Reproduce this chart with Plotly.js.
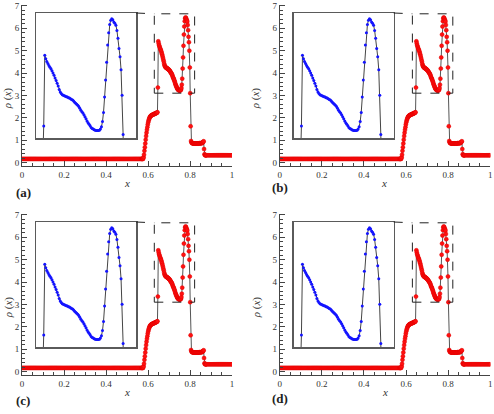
<!DOCTYPE html>
<html><head><meta charset="utf-8">
<script src="https://cdn.plot.ly/plotly-3.0.1.min.js"></script>
<style>html,body{margin:0;padding:0;background:#fff;}#plot{width:494px;height:414px;}</style>
</head><body><div id="plot"></div>
<script>
// ---------- data ----------
const xLeft = [0,0.005,0.01,0.015,0.02,0.025,0.03,0.035,0.04,0.045,0.05,0.055,0.06,0.065,0.07,0.075,0.08,0.085,0.09,0.095,
0.1,0.105,0.11,0.115,0.12,0.125,0.13,0.135,0.14,0.145,0.15,0.155,0.16,0.165,0.17,0.175,0.18,0.185,0.19,0.195,
0.2,0.205,0.21,0.215,0.22,0.225,0.23,0.235,0.24,0.245,0.25,0.255,0.26,0.265,0.27,0.275,0.28,0.285,0.29,0.295,
0.3,0.305,0.31,0.315,0.32,0.325,0.33,0.335,0.34,0.345,0.35,0.355,0.36,0.365,0.37,0.375,0.38,0.385,0.39,0.395,
0.4,0.405,0.41,0.415,0.42,0.425,0.43,0.435,0.44,0.445,0.45,0.455,0.46,0.465,0.47,0.475,0.48,0.485,0.49,0.495,
0.5,0.505,0.51,0.515,0.52,0.525,0.53,0.535,0.54,0.545,0.55,0.555,0.56,0.565];
const yLeft = [0.16,0.16,0.16,0.16,0.16,0.16,0.16,0.16,0.16,0.16,0.16,0.16,0.16,0.16,0.16,0.16,0.16,0.16,0.16,0.16,
0.16,0.16,0.16,0.16,0.16,0.16,0.16,0.16,0.16,0.16,0.16,0.16,0.16,0.16,0.16,0.16,0.16,0.16,0.16,0.16,
0.16,0.16,0.16,0.16,0.16,0.16,0.16,0.16,0.16,0.16,0.16,0.16,0.16,0.16,0.16,0.16,0.16,0.16,0.16,0.16,
0.16,0.16,0.16,0.16,0.16,0.16,0.16,0.16,0.16,0.16,0.16,0.16,0.16,0.16,0.16,0.16,0.16,0.16,0.16,0.16,
0.16,0.16,0.16,0.16,0.16,0.16,0.16,0.16,0.16,0.16,0.16,0.16,0.16,0.16,0.16,0.16,0.16,0.16,0.16,0.16,
0.16,0.16,0.16,0.16,0.16,0.16,0.16,0.16,0.16,0.16,0.16,0.16,0.16,0.16];
const xMid = [0.569,0.571,0.573,0.575,0.577,0.579,0.581,0.583,0.585,0.587,
0.589,0.591,0.593,0.595,0.597,0.599,0.601,0.603,0.605,0.607,
0.609,0.611,0.613,0.615,0.617,0.619,0.621,0.623,0.625,0.627,
0.629,0.631,0.633,0.635,0.637,0.639,0.641,0.643,0.645,0.647,
0.649,0.651,0.653,0.655,0.657,0.659,0.661,0.663,0.665,0.667,
0.669,0.671,0.673,0.675,0.677,0.679,0.681,0.683,0.685,0.687,
0.689,0.691,0.693,0.695,0.697,0.699,0.701,0.703,0.705,0.707,
0.709,0.711,0.713,0.715,0.717,0.719,0.721,0.723,0.725,0.727,
0.729,0.731,0.733,0.735,0.737,0.739,0.741,0.743,0.745,0.747,
0.749,0.751,0.753,0.755,0.757,0.759,0.761,0.763,0.765,0.767,
0.769,0.771,0.773,0.775,0.777,0.779,0.781,0.783,0.785,0.787,
0.789,0.791,0.793,0.795,0.797,0.799,0.801,0.803,0.805,0.807,
0.809,0.811,0.813,0.815,0.817,0.819,0.821,0.823,0.825,0.827,
0.829,0.831,0.833,0.835,0.837,0.839,0.841,0.843,0.845,0.847,
0.849,0.851,0.853,0.855,0.857,0.859,0.861,0.863,0.865,0.867,
0.869,0.871,0.873,0.875,0.877,0.879];
const yMid = [0.16,0.16,0.16,0.16,0.17,0.23,0.35,0.52,0.68,0.85,
1.02,1.18,1.33,1.46,1.58,1.70,1.80,1.88,1.94,1.99,
2.03,2.06,2.08,2.10,2.11,2.12,2.13,2.14,2.15,2.16,
2.17,2.17,2.18,2.19,2.20,2.21,2.22,2.23,2.25,3.35,
5.42,5.32,5.24,5.18,5.12,5.07,5.03,4.97,4.90,4.84,
4.76,4.68,4.60,4.52,4.42,4.35,4.30,4.27,4.25,4.24,
4.22,4.21,4.20,4.18,4.17,4.15,4.13,4.11,4.08,4.05,
4.02,3.99,3.96,3.92,3.87,3.81,3.77,3.73,3.68,3.62,
3.56,3.50,3.45,3.40,3.36,3.31,3.28,3.26,3.24,3.23,
3.22,3.22,3.22,3.23,3.26,3.33,3.48,3.75,4.20,4.70,
5.22,5.72,6.08,6.32,6.45,6.49,6.46,6.40,6.36,6.30,
6.15,5.92,5.62,5.38,5.00,4.25,3.10,1.62,0.96,0.90,
0.87,0.86,0.86,0.85,0.85,0.85,0.85,0.85,0.85,0.85,
0.85,0.85,0.85,0.85,0.85,0.85,0.85,0.86,0.86,0.86,
0.86,0.86,0.86,0.87,0.87,0.88,0.90,0.92,0.95,0.60,
0.37,0.33,0.32,0.32,0.32,0.32];
const xRight = [0.885,0.89,0.895,0.9,0.905,0.91,0.915,0.92,0.925,0.93,0.935,0.94,0.945,0.95,0.955,0.96,0.965,0.97,0.975,0.98,0.985,0.99,0.995,1.0];
const yRight = [0.32,0.32,0.32,0.32,0.32,0.32,0.32,0.32,0.32,0.32,0.32,0.32,0.32,0.32,0.32,0.32,0.32,0.32,0.32,0.32,0.32,0.32,0.32,0.32];

const zoomX = [0.630, 0.822];      // dashed window
const zoomY = [3.1, 6.65];
const insetXRange = [0.632, 0.826];
const insetYRange = [3.0, 6.66];
const xTickVals = [0, 0.2, 0.4, 0.6, 0.8, 1];
const yTickVals = [0, 1, 2, 3, 4, 5, 6, 7];
const panelTags = ['(a)', '(b)', '(c)', '(d)'];

const xs = xLeft.concat(xMid, xRight);
const ys = yLeft.concat(yMid, yRight);

// ---------- layout geometry (pixels) ----------
const W = 494, H = 414;
const px = v => v / W, py = v => 1 - v / H;
const YR = [-0.15, 7.05];
const panels = [
  {l:22,   r:232,   t:4.86,   b:165.85,   il:36,    ir:136,   it:13,  ib:138, xt:[126.7,183.3], yt:[8.3,98],  tg:[23,192]},
  {l:279.7,r:490.3, t:4.86,   b:165.85,   il:293.7, ir:393.7, it:13,  ib:138, xt:[384,182.7],  yt:[256.3,98], tg:[280,187.5]},
  {l:22,   r:232,   t:213.86, b:374.85,   il:36,    ir:136,   it:222, ib:347, xt:[127,392],    yt:[8.3,307], tg:[23,400]},
  {l:279.7,r:490.3, t:213.86, b:374.85,   il:293.7, ir:393.7, it:222, ib:347, xt:[385,392],    yt:[256.3,307],tg:[280,398]}
];

const serif = 'Liberation Serif';
const axCol = '#444';
const layout = {
  width: W, height: H, margin: {l:0, r:0, t:0, b:0},
  font: {family: serif},
  paper_bgcolor: '#fff', plot_bgcolor: 'rgba(0,0,0,0)',
  showlegend: false, shapes: [], annotations: []
};
const data = [];

panels.forEach((p, i) => {
  const mi = 2*i + 1, ii = 2*i + 2;
  const mx = 'x' + (mi === 1 ? '' : mi), my = 'y' + (mi === 1 ? '' : mi);
  const ix = 'x' + ii, iy = 'y' + ii;
  const mxk = 'xaxis' + (mi === 1 ? '' : mi), myk = 'yaxis' + (mi === 1 ? '' : mi);
  layout[mxk] = {
    domain: [px(p.l), px(p.r)], range: [0, 1], anchor: my,
    showline: true, linecolor: axCol, linewidth: 1, mirror: false,
    ticks: 'inside', ticklen: 5, tickcolor: axCol, tickwidth: 1,
    tickmode: 'array', tickvals: xTickVals, ticktext: xTickVals.map(String),
    tickfont: {family: serif, size: 9, color: '#333'},
    minor: {dtick: 0.05, ticks: 'inside', ticklen: 3, tickcolor: axCol, showgrid: false},
    showgrid: false, zeroline: false, fixedrange: true
  };
  layout[myk] = {
    domain: [py(p.b), py(p.t)], range: YR, anchor: mx,
    showline: true, linecolor: axCol, linewidth: 1,
    ticks: 'inside', ticklen: 5, tickcolor: axCol, tickwidth: 1,
    tickmode: 'array', tickvals: yTickVals, ticktext: yTickVals.map(String),
    tickfont: {family: serif, size: 9, color: '#333'},
    minor: {dtick: 0.2, tick0: 0, ticks: 'inside', ticklen: 3, tickcolor: axCol, showgrid: false},
    showgrid: false, zeroline: false, fixedrange: true
  };
  layout['xaxis' + ii] = {
    domain: [px(p.il), px(p.ir)], range: insetXRange, anchor: iy,
    showline: true, mirror: true, linecolor: '#5a5a5a', linewidth: 1.5,
    showticklabels: false, ticks: '', showgrid: false, zeroline: false, fixedrange: true
  };
  layout['yaxis' + ii] = {
    domain: [py(p.ib), py(p.it)], range: insetYRange, anchor: ix,
    showline: true, mirror: true, linecolor: '#5a5a5a', linewidth: 1.5,
    showticklabels: false, ticks: '', showgrid: false, zeroline: false, fixedrange: true
  };

  // main: reference line + red points
  data.push({x: xs, y: ys, xaxis: mx, yaxis: my, type: 'scatter', mode: 'lines',
    line: {color: '#555', width: 1}, hoverinfo: 'skip'});
  data.push({x: xs, y: ys, xaxis: mx, yaxis: my, type: 'scatter', mode: 'markers',
    marker: {symbol: 'circle', size: 4, color: '#ff1010', line: {color: '#e00000', width: 0.5}}});
  // inset: line + blue points
  data.push({x: xs, y: ys, xaxis: ix, yaxis: iy, type: 'scatter', mode: 'lines',
    line: {color: '#444', width: 1}, hoverinfo: 'skip'});
  data.push({x: xs, y: ys, xaxis: ix, yaxis: iy, type: 'scatter', mode: 'markers',
    marker: {symbol: 'circle', size: 3, color: '#1414ff'}});

  // dashed zoom window
  layout.shapes.push({type: 'rect', xref: mx, yref: my, x0: zoomX[0], x1: zoomX[1], y0: zoomY[0], y1: zoomY[1],
    line: {color: '#222', width: 1, dash: 'dash'}, fillcolor: 'rgba(0,0,0,0)'});
  // connector from inset top-right to window top-left
  const dl = px(p.l), dw = px(p.r) - px(p.l);
  const db = py(p.b), dh = py(p.t) - py(p.b);
  const rectLeft = dl + (zoomX[0] - 0) / 1 * dw;
  const rectTop = db + (zoomY[1] - YR[0]) / (YR[1] - YR[0]) * dh;
  layout.shapes.push({type: 'line', xref: 'paper', yref: 'paper', x0: px(p.ir), x1: rectLeft, y0: py(p.it), y1: rectTop,
    line: {color: '#222', width: 1, dash: 'dash'}});

  // texts
  layout.annotations.push({xref: 'paper', yref: 'paper', x: px(p.xt[0]), y: py(p.xt[1]), text: '<i>x</i>',
    showarrow: false, xanchor: 'center', yanchor: 'middle', font: {family: serif, size: 11, color: '#333'}});
  layout.annotations.push({xref: 'paper', yref: 'paper', x: px(p.yt[0]), y: py(p.yt[1]), text: '<i>ρ</i> (<i>x</i>)',
    textangle: -90, showarrow: false, xanchor: 'center', yanchor: 'middle', font: {family: serif, size: 11, color: '#333'}});
  layout.annotations.push({xref: 'paper', yref: 'paper', x: px(p.tg[0]), y: py(p.tg[1]), text: '<b>' + panelTags[i] + '</b>',
    showarrow: false, xanchor: 'center', yanchor: 'middle', font: {family: serif, size: 13, color: '#222'}});
});

Plotly.newPlot('plot', data, layout, {staticPlot: true, displayModeBar: false});
</script>
</body></html>
